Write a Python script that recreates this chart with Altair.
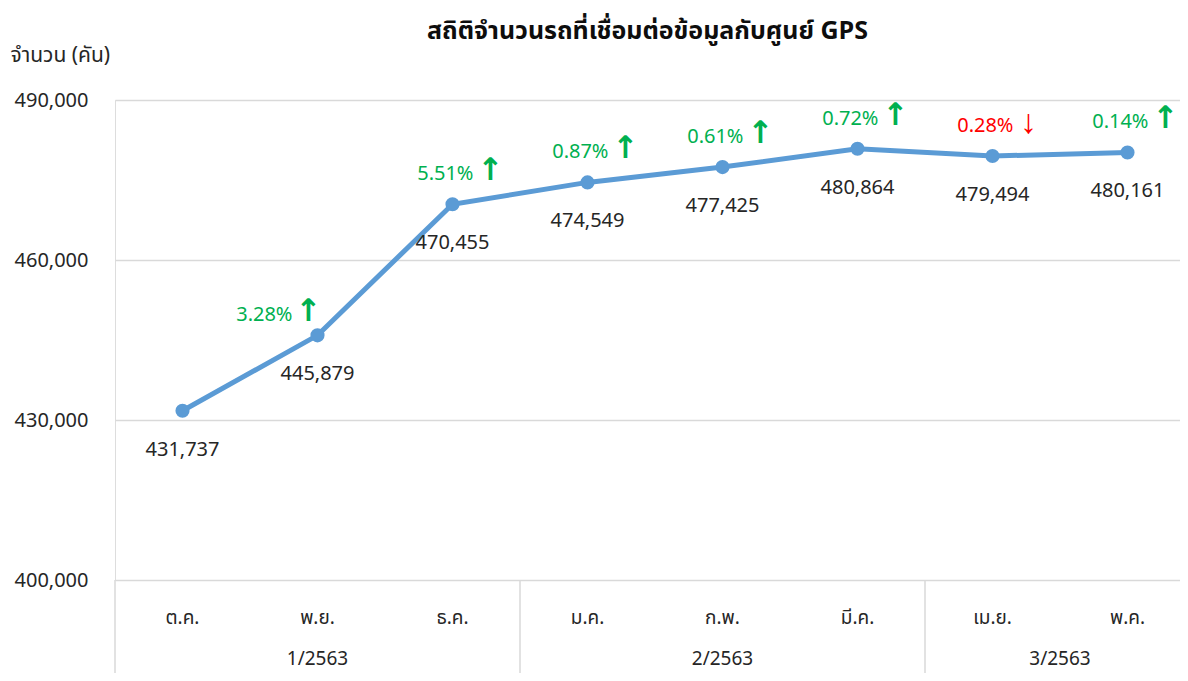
import altair as alt
import pandas as pd

months = ["ต.ค.", "พ.ย.", "ธ.ค.", "ม.ค.", "ก.พ.", "มี.ค.", "เม.ย.", "พ.ค."]
vehicles = [431737, 445879, 470455, 474549, 477425, 480864, 479494, 480161]
pct_change = [None, 3.28, 5.51, 0.87, 0.61, 0.72, -0.28, 0.14]
quarters = ["1/2563", "2/2563", "3/2563"]
quarter_sizes = [3, 3, 2]
y_ticks = [400000, 430000, 460000, 490000]

TITLE = "สถิติจำนวนรถที่เชื่อมต่อข้อมูลกับศูนย์ GPS"
Y_TITLE = "จำนวน (คัน)"
FONT = "Noto Sans Thai, Leelawadee UI, Tahoma, Noto Sans, Liberation Sans, sans-serif"

rows = []
for i, (m, v, p) in enumerate(zip(months, vehicles, pct_change)):
    rows.append({
        "idx": i,
        "month": m,
        "value": v,
        "vlabel": f"{v:,}",
        "pct": "" if p is None else f"{abs(p):.2f}%",
        "dir": "none" if p is None else ("up" if p > 0 else "down"),
    })
df = pd.DataFrame(rows)

q_rows, b_rows = [], [{"idx": -0.5}]
start = 0
for q, n in zip(quarters, quarter_sizes):
    q_rows.append({"idx": start + (n - 1) / 2, "quarter": q})
    start += n
    b_rows.append({"idx": start - 0.5})
qdf = pd.DataFrame(q_rows)
bdf = pd.DataFrame(b_rows)

W, H = 1065, 480
GREEN, RED, TXT, BLUE = "#00b050", "#ff0000", "#262626", "#5b9bd5"
xscale = alt.Scale(domain=[-0.5, 7.5], range=[0, 1080])
yscale = alt.Scale(domain=[400000, 490000], nice=False, zero=False)
X = alt.X("idx:Q", scale=xscale, axis=None)
Y = alt.Y("value:Q", scale=yscale)

base = alt.Chart(df)

line = base.mark_line(color=BLUE, strokeWidth=5).encode(
    x=X,
    y=alt.Y("value:Q", scale=yscale, axis=alt.Axis(
        values=y_ticks, format=",d", title=Y_TITLE,
        titleAngle=0, titleAlign="left", titleBaseline="middle",
        titleX=-105, titleY=-45, titleFontSize=21, titleFontWeight="normal",
        titleColor=TXT, titleFont=FONT,
        labelFontSize=20, labelColor=TXT, labelPadding=27, labelFont=FONT,
        ticks=False, domain=False, gridColor="#d9d9d9", gridWidth=1.5,
    )),
)
points = base.mark_circle(color=BLUE, size=200, opacity=1).encode(x=X, y=Y)
vlabels = base.mark_text(dy=39, fontSize=20, color=TXT, font=FONT).encode(
    x=X, y=Y, text="vlabel:N"
)

up = base.transform_filter("datum.dir == 'up'")
down = base.transform_filter("datum.dir == 'down'")
later_up = up.transform_filter("datum.idx >= 2")
first_up = up.transform_filter("datum.idx == 1")

pct_up = later_up.mark_text(dy=-30, dx=21, align="right", fontSize=20, font=FONT, color=GREEN).encode(
    x=X, y=Y, text="pct:N")
arr_up = later_up.mark_text(dy=-33, dx=38, align="center", fontSize=31, fontWeight="bold",
                            font="DejaVu Sans", color=GREEN).encode(x=X, y=Y, text=alt.value("↑"))
pct_first = first_up.mark_text(dy=-20, dx=-25, align="right", fontSize=20, font=FONT, color=GREEN).encode(
    x=X, y=Y, text="pct:N")
arr_first = first_up.mark_text(dy=-23, dx=-9, align="center", fontSize=31, fontWeight="bold",
                               font="DejaVu Sans", color=GREEN).encode(x=X, y=Y, text=alt.value("↑"))
pct_down = down.mark_text(dy=-30, dx=21, align="right", fontSize=20, font=FONT, color=RED).encode(
    x=X, y=Y, text="pct:N")
arr_down = down.mark_text(dy=-33, dx=36, align="center", fontSize=34,
                          font="Liberation Sans", color=RED).encode(x=X, y=Y, text=alt.value("↓"))

month_text = base.mark_text(fontSize=19, color=TXT, font=FONT, baseline="middle").encode(
    x=X, y=alt.value(H + 38), text="month:N"
)
quarter_text = alt.Chart(qdf).mark_text(fontSize=19, color=TXT, font=FONT, baseline="middle").encode(
    x=X, y=alt.value(H + 79), text="quarter:N"
)
separators = alt.Chart(bdf).mark_rule(color="#d9d9d9", strokeWidth=1.5).encode(
    x=X, y=alt.value(H), y2=alt.value(H + 120)
)

chart = alt.layer(
    line, separators, points, vlabels, pct_up, arr_up, pct_first, arr_first,
    pct_down, arr_down, month_text, quarter_text
).properties(
    width=W, height=H,
    title=alt.TitleParams(TITLE, fontSize=25, fontWeight="bold", anchor="middle",
                          offset=0, color="#0d0d0d", font=FONT),
    autosize="none",
    padding={"left": 107, "top": 92, "right": 0, "bottom": 93},
).configure_view(stroke=None).configure(background="white")

chart.save("out.html", embed_options={"renderer": "svg", "actions": False})
